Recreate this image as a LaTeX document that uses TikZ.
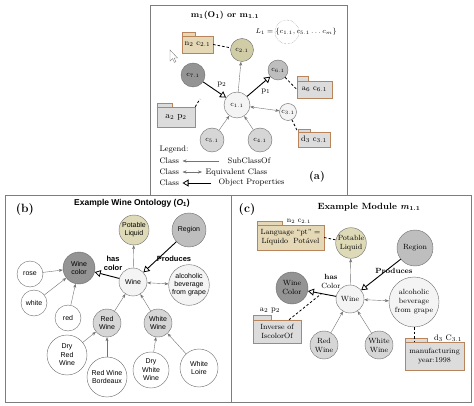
\documentclass[tikz,border=0pt]{standalone}
\usepackage{amsmath}
\usepackage{fontspec}
\newfontfamily\arialfont{Liberation Sans}
\usetikzlibrary{arrows.meta}

\definecolor{olivecls}{RGB}{208,204,166}
\definecolor{khaki}{RGB}{222,218,184}
\definecolor{darkcls}{RGB}{148,148,148}
\definecolor{midcls}{RGB}{190,190,190}
\definecolor{lightcls}{RGB}{214,214,214}
\definecolor{palecls}{RGB}{244,244,244}
\definecolor{tanfill}{RGB}{228,216,182}
\definecolor{foldgray}{RGB}{220,220,220}
\definecolor{foldline}{RGB}{184,132,92}
\definecolor{boxline}{RGB}{125,125,125}

\begin{document}
\begin{tikzpicture}[x=1pt,y=-1pt,
  cls/.style={circle,draw=gray!85!black,inner sep=0pt,align=center},
  subarr/.style={draw=gray!90!black,-{Stealth[length=4pt,width=3pt]}},
  eqarr/.style={draw=gray!90!black,{Stealth[length=4pt,width=3pt]}-{Stealth[length=4pt,width=3pt]}},
  objarr/.style={draw=black,line width=0.9pt,-{Triangle[open,length=6pt,width=7pt,line width=0.8pt]}},
  folder/.style={draw=foldline,fill=foldgray,inner sep=0pt,align=center},
  annot/.style={line width=0.8pt,dash pattern=on 2.5pt off 2pt}]
\useasboundingbox (0,0) rectangle (474,406);

% (b) and (c) frames
\draw[boxline] (5,195) rectangle (231,402);
\draw[boxline] (231,195) rectangle (471,402);

% ---------------- (a) ----------------
\draw[boxline,fill=white] (150,5) rectangle (347,195);
\node[font=\fontsize{8.5}{9}\selectfont\bfseries] (ttla) at (225,15) {m\textsubscript{1}(O\textsubscript{1}) or m\textsubscript{1.1}};
\node[anchor=west,font=\fontsize{7.5}{8}\selectfont] (lset) at (252,32) {$L_1=\{c_{1.1},c_{5.1}\ldots c_m\}$};
\draw[gray,densely dotted] (287,32) circle (12pt);

\node[cls,fill=olivecls,minimum size=23pt,font=\fontsize{7}{8}\selectfont] (c21) at (242,50) {c$_{2.1}$};
\node[cls,fill=darkcls,minimum size=24pt,font=\fontsize{7}{8}\selectfont] (c71) at (193,75) {c$_{7.1}$};
\node[cls,fill=midcls,minimum size=20pt,font=\fontsize{7}{8}\selectfont] (c61) at (278,70) {c$_{6.1}$};
\node[cls,fill=palecls,minimum size=26pt,font=\fontsize{7}{8}\selectfont] (c11) at (237,105) {c$_{1.1}$};
\node[cls,fill=palecls,minimum size=17pt,font=\fontsize{7}{8}\selectfont] (c31) at (288,112) {c$_{3.1}$};
\node[cls,fill=lightcls,minimum size=24pt,font=\fontsize{7}{8}\selectfont] (c51) at (212,140) {c$_{5.1}$};
\node[cls,fill=lightcls,minimum size=24pt,font=\fontsize{7}{8}\selectfont] (c41) at (260,140) {c$_{4.1}$};

\node[folder,fill=tanfill,minimum width=31pt,minimum height=17pt,font=\fontsize{8}{9}\selectfont] (n2) at (197.5,44.5) {n$_2$ c$_{2.1}$};
\draw[foldline,fill=tanfill] (n2.north west) rectangle ++(13pt,4pt);
\node[folder,minimum width=35pt,minimum height=17pt,font=\fontsize{8}{9}\selectfont] (a6) at (314.5,89.5) {a$_6$ c$_{6.1}$};
\draw[foldline,fill=foldgray] (a6.north west) rectangle ++(11pt,5pt);
\node[folder,minimum width=32pt,minimum height=15pt,font=\fontsize{8}{9}\selectfont] (d3) at (314,139.5) {d$_3$ c$_{3.1}$};
\draw[foldline,fill=foldgray] (d3.north west) rectangle ++(12pt,3pt);
\node[folder,minimum width=38pt,minimum height=20pt,font=\fontsize{9}{10}\selectfont] (a2) at (176,117) {a$_2$ p$_2$};
\draw[foldline,fill=foldgray] (a2.north west) rectangle ++(15pt,4pt);

\draw[subarr] (c11) -- (c21);
\draw[subarr] (c51) -- (c11);
\draw[subarr] (c41) -- (c11);
\draw[eqarr] (c11) -- (c31);
\draw[objarr] (c71) -- node[above right=-1pt,font=\fontsize{8}{9}\selectfont] {p$_2$} (c11);
\draw[objarr] (c11) -- node[below right=-1pt,font=\fontsize{8}{9}\selectfont] {p$_1$} (c61);

\coordinate (p2tip) at (200,99);
\draw[annot] (n2.east) -- (c21);
\draw[annot] (c61) -- (a6.west);
\draw[annot] (c31) -- (d3.north west);
\draw[annot] (a2.north east) -- (p2tip);

% mouse pointer
\filldraw[fill=white,draw=gray] (170,50) -- (170,61) -- (172.6,58.6) -- (174.4,62.4) -- (175.9,61.7) -- (174.2,58) -- (177.6,58) -- cycle;

% legend
\node[anchor=west,font=\fontsize{8}{9}\selectfont] (lgd) at (156,150) {Legend:};
\node[anchor=west,font=\fontsize{8}{9}\selectfont] (lc1) at (156,161) {Class};
\node[anchor=west,font=\fontsize{8}{9}\selectfont] (lc2) at (156,172) {Class};
\node[anchor=west,font=\fontsize{8}{9}\selectfont] (lc3) at (156,183) {Class};
\node[anchor=west,font=\fontsize{8}{9}\selectfont] (lsub) at (224,161) {SubClassOf};
\node[anchor=west,font=\fontsize{8}{9}\selectfont] (leq) at (202,172) {Equivalent Class};
\node[anchor=west,font=\fontsize{8}{9}\selectfont] (lobj) at (215,183) {Object Properties};
\draw[subarr] ([xshift=-5pt]lsub.west) -- (lc1.east);
\draw[eqarr] (lc2.east) -- (leq.west);
\draw[objarr] ([xshift=-4pt]lobj.west) -- (lc3.east);
\node[font=\fontsize{11}{12}\selectfont\bfseries] (taga) at (317,177) {(a)};

% ---------------- (b) ----------------
\node[font=\fontsize{12}{13}\selectfont\bfseries] (tagb) at (25,210) {(b)};
\node[font=\arialfont\fontsize{8.5}{10}\selectfont\bfseries] (ttlb) at (132,203) {Example Wine Ontology (\textit{O}\textsubscript{1})};

\node[cls,fill=khaki,minimum size=30pt,font=\arialfont\fontsize{7}{8}\selectfont] (pot) at (134,230) {Potable\\Liquid};
\node[cls,fill=midcls,minimum size=34pt,font=\arialfont\fontsize{7}{8}\selectfont] (reg) at (189,230) {Region};
\node[cls,fill=darkcls,minimum size=32pt,font=\arialfont\fontsize{7}{8}\selectfont] (wcol) at (79,268) {Wine\\color};
\node[cls,fill=white,minimum size=26pt,font=\arialfont\fontsize{7}{8}\selectfont] (rose) at (30,274) {rose};
\node[cls,fill=white,minimum size=26pt,font=\arialfont\fontsize{7}{8}\selectfont] (wht) at (34,303) {white};
\node[cls,fill=white,minimum size=26pt,font=\arialfont\fontsize{7}{8}\selectfont] (red) at (68,318) {red};
\node[cls,fill=palecls,minimum size=28pt,font=\arialfont\fontsize{7}{8}\selectfont] (wine) at (133,282) {Wine};
\node[cls,fill=palecls,minimum size=40pt,font=\arialfont\fontsize{7}{8}\selectfont] (alc) at (189,285) {alcoholic\\beverage\\from grape};
\node[cls,fill=lightcls,minimum size=28pt,font=\arialfont\fontsize{7}{8.5}\selectfont] (rw) at (107,323) {Red\\Wine};
\node[cls,fill=lightcls,minimum size=28pt,font=\arialfont\fontsize{7}{8.5}\selectfont] (ww) at (158,323) {White\\Wine};
\node[cls,fill=white,minimum size=40pt,font=\arialfont\fontsize{7}{8.5}\selectfont] (drw) at (67,355) {Dry\\Red\\Wine};
\node[cls,fill=white,minimum size=40pt,font=\arialfont\fontsize{7}{8.5}\selectfont] (rwb) at (107,377) {Red Wine\\Bordeaux};
\node[cls,fill=white,minimum size=36pt,font=\arialfont\fontsize{7}{8.5}\selectfont] (dww) at (151,370) {Dry\\White\\Wine};
\node[cls,fill=white,minimum size=38pt,font=\arialfont\fontsize{7}{8.5}\selectfont] (wl) at (199,368) {White\\Loire};

\draw[subarr] (wine) -- (pot);
\draw[subarr] (rose) -- (wcol);
\draw[subarr] (wht) -- (wcol);
\draw[subarr] (red) -- (wcol);
\draw[subarr] (rw) -- (wine);
\draw[subarr] (ww) -- (wine);
\draw[subarr] (drw) -- (rw);
\draw[subarr] (rwb) -- (rw);
\draw[subarr] (dww) -- (ww);
\draw[subarr] (wl) -- (ww);
\draw[eqarr] (wine) -- (alc);
\draw[objarr] (reg) -- (wine);
\draw[objarr] (wine) -- (wcol);
\node[align=center,font=\arialfont\fontsize{7.5}{9}\selectfont\bfseries] (hcb) at (113,263) {has\\color};
\node[font=\arialfont\fontsize{7.5}{9}\selectfont\bfseries] (prb) at (174,259) {Produces};

% ---------------- (c) ----------------
\node[font=\fontsize{12}{13}\selectfont\bfseries] (tagc) at (247,210) {(c)};
\node[font=\fontsize{9}{10}\selectfont\bfseries] (ttlc) at (369,207) {Example Module \textit{m}\textsubscript{1.1}};

\node[folder,fill=tanfill,minimum width=67pt,minimum height=25pt,font=\fontsize{7.5}{9}\selectfont] (n2c) at (290.5,237.5) {Language ``pt'' =\\L\'iquido\ \ Pot\'avel};
\draw[foldline,fill=tanfill] (n2c.north west) rectangle ++(25pt,4pt);
\node[font=\fontsize{7.5}{8}\selectfont] (n2lbl) at (299,221) {n$_2$ c$_{2.1}$};
\node[folder,minimum width=48pt,minimum height=23pt,font=\fontsize{7.5}{9}\selectfont] (a2c) at (277,331.5) {Inverse of\\IscolorOf};
\draw[foldline,fill=foldgray] (a2c.north west) rectangle ++(18pt,5pt);
\node[font=\fontsize{8}{9}\selectfont] (a2lbl) at (270,310) {a$_2$ p$_2$};
\node[folder,minimum width=59pt,minimum height=28pt,font=\fontsize{7.5}{9}\selectfont] (d3c) at (434.5,356) {manufacturing\\year:1998};
\draw[foldline,fill=foldgray] (d3c.north west) rectangle ++(22pt,4pt);
\node[font=\fontsize{8}{9}\selectfont] (d3lbl) at (448,338) {d$_3$ C$_{3.1}$};

\node[cls,fill=khaki,minimum size=30pt,font=\fontsize{7.5}{9}\selectfont] (pl2) at (351,243) {Potable\\Liquid};
\node[cls,fill=midcls,minimum size=36pt,font=\fontsize{7.5}{9}\selectfont] (reg2) at (415,248) {Region};
\node[cls,fill=darkcls,minimum size=32pt,font=\fontsize{7.5}{9}\selectfont] (wc2) at (292,288) {Wine\\Color};
\node[cls,fill=palecls,minimum size=28pt,font=\fontsize{7.5}{9}\selectfont] (wine2) at (350,299) {Wine};
\node[cls,fill=palecls,minimum size=50pt,font=\fontsize{7.5}{9}\selectfont] (alc2) at (414,302) {alcoholic\\beverage\\from grape};
\node[cls,fill=lightcls,minimum size=28pt,font=\fontsize{7.5}{9}\selectfont] (rw2) at (324,345) {Red\\Wine};
\node[cls,fill=lightcls,minimum size=28pt,font=\fontsize{7.5}{9}\selectfont] (ww2) at (379,345) {White\\Wine};

\draw[subarr] (wine2) -- (pl2);
\draw[subarr] (rw2) -- (wine2);
\draw[subarr] (ww2) -- (wine2);
\draw[eqarr] (wine2) -- (alc2);
\draw[objarr] (reg2) -- (wine2);
\draw[objarr] (wine2) -- (wc2);
\node[align=center,font=\fontsize{7.5}{9}\selectfont] (hcc) at (331,281) {\textbf{has}\\Color};
\node[font=\fontsize{7.5}{9}\selectfont\bfseries] (prc) at (394,271) {Produces};

\coordinate (hctip) at (321,294);
\draw[annot] (n2c.east) -- (pl2);
\draw[annot] ([xshift=12pt]a2c.north) -- (hctip);
\draw[annot] (alc2.south) -- (alc2.south |- d3c.north);
\end{tikzpicture}
\end{document}
